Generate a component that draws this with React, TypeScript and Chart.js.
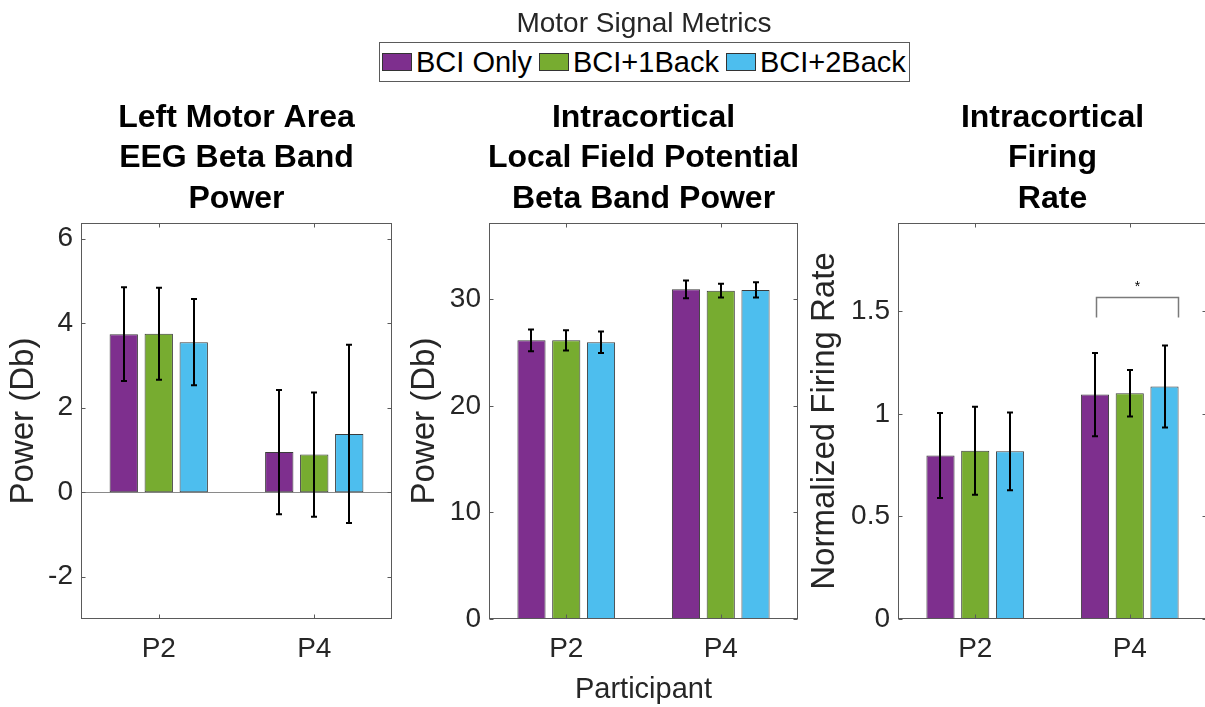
import React, { useEffect, useRef } from 'react';
import { Chart, registerables } from 'chart.js';

Chart.register(...registerables);

// ---------- data ----------
const CATEGORIES = ['P2', 'P4'];
const SERIES = ['BCI Only', 'BCI+1Back', 'BCI+2Back'];
const COLORS = ['#7E2F8E', '#77AC30', '#4DBEEE'];

const EEG_MEAN = [[3.74, 0.95], [3.75, 0.89], [3.55, 1.38]];
const EEG_ERR = [[1.11, 1.47], [1.09, 1.47], [1.02, 2.11]];
const EEG_TICKS = [-2, 0, 2, 4, 6];

const LFP_MEAN = [[26.15, 30.93], [26.15, 30.8], [25.96, 30.87]];
const LFP_ERR = [[1.02, 0.83], [0.95, 0.65], [1.0, 0.72]];
const LFP_TICKS = [0, 10, 20, 30];

const FR_MEAN = [[0.797, 1.094], [0.82, 1.1], [0.817, 1.133]];
const FR_ERR = [[0.207, 0.203], [0.215, 0.113], [0.19, 0.2]];
const FR_TICKS = [0, 0.5, 1, 1.5];

// significance bracket on P4 (category units / data units)
const FR_SIG_X = [1 - 0.22, 1 + 0.31];
const FR_SIG_Y = [1.47, 1.567, 1.634];
const FR_SIG_LABEL = '*';

const LEGEND_TITLE = 'Motor Signal Metrics';
const X_TITLE = 'Participant';

// ---------- style ----------
const FONT = "'Liberation Sans', Arial, Helvetica, sans-serif";
const TXT = '#262626';
const AXIS = '#5a5a5a';

type PanelCfg = {
  title: string[];
  yTitle: string;
  xTitle?: string;
  mean: number[][];
  err: number[][];
  ticks: number[];
  min: number;
  max: number;
  canvasX: number;
  canvasW: number;
  yAxisW: number;
  padRight: number;
  yTitlePad: number;
  zeroLine?: boolean;
  sig?: boolean;
};

const PANELS: PanelCfg[] = [
  {
    title: ['Left Motor Area', 'EEG Beta Band', 'Power'],
    yTitle: 'Power (Db)',
    mean: EEG_MEAN, err: EEG_ERR, ticks: EEG_TICKS, min: -3, max: 6.37,
    canvasX: 0, canvasW: 400, yAxisW: 81, padRight: 8, yTitlePad: 5, zeroLine: true,
  },
  {
    title: ['Intracortical', 'Local Field Potential', 'Beta Band Power'],
    yTitle: 'Power (Db)', xTitle: X_TITLE,
    mean: LFP_MEAN, err: LFP_ERR, ticks: LFP_TICKS, min: 0, max: 37.15,
    canvasX: 400, canvasW: 405, yAxisW: 89, padRight: 7, yTitlePad: 6,
  },
  {
    title: ['Intracortical', 'Firing', 'Rate'],
    yTitle: 'Normalized Firing Rate',
    mean: FR_MEAN, err: FR_ERR, ticks: FR_TICKS, min: 0, max: 1.93,
    canvasX: 805, canvasW: 410, yAxisW: 93, padRight: 8, yTitlePad: 1, sig: true,
  },
];

const TITLE_BASELINES = [126.7, 167.3, 208];

function makeDecor(p: PanelCfg) {
  return {
    id: 'decor',
    beforeDatasetsDraw(chart: any) {
      const { ctx, chartArea: a, scales } = chart;
      if (p.zeroLine) {
        const y = Math.round(scales.y.getPixelForValue(0)) + 0.5;
        ctx.save();
        ctx.strokeStyle = '#8a8a8a';
        ctx.lineWidth = 1;
        ctx.beginPath();
        ctx.moveTo(a.left, y);
        ctx.lineTo(a.right, y);
        ctx.stroke();
        ctx.restore();
      }
    },
    afterDatasetsDraw(chart: any) {
      const { ctx, chartArea: a, scales } = chart;
      const ys = scales.y;
      const xs = scales.x;
      ctx.save();
      // error bars
      ctx.strokeStyle = '#000';
      ctx.lineWidth = 2;
      p.mean.forEach((vals, i) => {
        const meta = chart.getDatasetMeta(i);
        vals.forEach((v, j) => {
          const bar = meta.data[j];
          const e = p.err[i][j];
          const x = Math.round(bar.x);
          const y1 = ys.getPixelForValue(v + e);
          const y2 = ys.getPixelForValue(v - e);
          ctx.beginPath();
          ctx.moveTo(x, y1);
          ctx.lineTo(x, y2);
          ctx.moveTo(x - 3, y1);
          ctx.lineTo(x + 3, y1);
          ctx.moveTo(x - 3, y2);
          ctx.lineTo(x + 3, y2);
          ctx.stroke();
        });
      });
      // box
      ctx.strokeStyle = AXIS;
      ctx.lineWidth = 1;
      const L = Math.round(a.left) + 0.5;
      const R = Math.round(a.right) - 0.5;
      const T = Math.round(a.top) + 0.5;
      const B = Math.round(a.bottom) - 0.5;
      ctx.strokeRect(L, T, R - L, B - T);
      // inward ticks
      ctx.beginPath();
      const tl = 4;
      p.ticks.forEach((v) => {
        const y = Math.round(ys.getPixelForValue(v)) + 0.5;
        ctx.moveTo(L, y); ctx.lineTo(L + tl, y);
        ctx.moveTo(R, y); ctx.lineTo(R - tl, y);
      });
      CATEGORIES.forEach((_, j) => {
        const x = Math.round(xs.getPixelForValue(j)) + 0.5;
        ctx.moveTo(x, T); ctx.lineTo(x, T + tl);
        ctx.moveTo(x, B); ctx.lineTo(x, B - tl);
      });
      ctx.stroke();
      // significance bracket
      if (p.sig) {
        const x1 = Math.round(xs.getPixelForValue(FR_SIG_X[0])) + 0.5;
        const x2 = Math.round(xs.getPixelForValue(FR_SIG_X[1])) + 0.5;
        const yt = ys.getPixelForValue(FR_SIG_Y[0]);
        const yb = Math.round(ys.getPixelForValue(FR_SIG_Y[1])) + 0.5;
        ctx.strokeStyle = '#7a7a7a';
        ctx.lineWidth = 1.5;
        ctx.beginPath();
        ctx.moveTo(x1, yt);
        ctx.lineTo(x1, yb);
        ctx.lineTo(x2, yb);
        ctx.lineTo(x2, yt);
        ctx.stroke();
        ctx.fillStyle = '#000';
        ctx.font = `14px ${FONT}`;
        ctx.textAlign = 'center';
        ctx.textBaseline = 'middle';
        ctx.fillText(FR_SIG_LABEL, (x1 + x2) / 2, ys.getPixelForValue(FR_SIG_Y[2]) + 3);
      }
      // title
      ctx.fillStyle = '#000';
      ctx.font = `bold 32px ${FONT}`;
      ctx.textAlign = 'center';
      ctx.textBaseline = 'alphabetic';
      const cx = (a.left + a.right) / 2;
      p.title.forEach((line, k) => ctx.fillText(line, cx, TITLE_BASELINES[k]));
      ctx.restore();
    },
  };
}

function buildConfig(p: PanelCfg): any {
  return {
    type: 'bar',
    data: {
      labels: CATEGORIES,
      datasets: SERIES.map((name, i) => ({
        label: name,
        data: p.mean[i],
        backgroundColor: COLORS[i],
        borderColor: 'rgba(25,25,25,0.85)',
        borderWidth: 1,
        borderSkipped: false,
        categoryPercentage: 0.675,
        barPercentage: 0.81,
      })),
    },
    options: {
      responsive: false,
      animation: false,
      events: [],
      layout: { padding: { top: 223, right: p.padRight, bottom: 0, left: 0 } },
      plugins: { legend: { display: false }, tooltip: { enabled: false }, title: { display: false } },
      scales: {
        x: {
          type: 'category',
          offset: true,
          grid: { display: false, drawTicks: false },
          border: { display: false },
          ticks: { color: TXT, font: { family: FONT, size: 28 }, padding: 13, maxRotation: 0, autoSkip: false },
          title: {
            display: !!p.xTitle,
            text: p.xTitle || '',
            color: TXT,
            font: { family: FONT, size: 29 },
            padding: { top: 0, bottom: 0 },
          },
          afterFit: (s: any) => { s.height = 88; },
        },
        y: {
          type: 'linear',
          min: p.min,
          max: p.max,
          grid: { display: false, drawTicks: false },
          border: { display: false },
          afterBuildTicks: (s: any) => { s.ticks = p.ticks.map((v) => ({ value: v })); },
          ticks: { color: TXT, font: { family: FONT, size: 28 }, padding: 8, callback: (v: any) => String(v) },
          title: {
            display: true,
            text: p.yTitle,
            color: TXT,
            font: { family: FONT, size: 33 },
            padding: { top: p.yTitlePad - 1, bottom: 0 },
          },
          afterFit: (s: any) => { s.width = p.yAxisW; },
        },
      },
    },
    plugins: [makeDecor(p)],
  };
}

function Panel({ cfg }: { cfg: PanelCfg }) {
  const ref = useRef<HTMLCanvasElement>(null);
  useEffect(() => {
    const chart = new Chart(ref.current as HTMLCanvasElement, buildConfig(cfg));
    return () => chart.destroy();
  }, [cfg]);
  return (
    <canvas
      ref={ref}
      width={cfg.canvasW}
      height={707}
      style={{ position: 'absolute', left: cfg.canvasX, top: 0, width: cfg.canvasW, height: 707 }}
    />
  );
}

function Legend() {
  return (
    <>
      <div
        style={{
          position: 'absolute', left: 379, top: 7, width: 530, textAlign: 'center',
          fontFamily: FONT, fontSize: 28, lineHeight: '32px', color: TXT, whiteSpace: 'nowrap',
        }}
      >
        {LEGEND_TITLE}
      </div>
      <div
        style={{
          position: 'absolute', left: 379, top: 42, height: 40, boxSizing: 'border-box',
          border: `1px solid ${AXIS}`, display: 'flex', alignItems: 'center', padding: '0 3px 0 2px',
          background: '#fff', fontFamily: FONT, whiteSpace: 'nowrap',
        }}
      >
        {SERIES.map((s, i) => (
          <div key={s} style={{ display: 'flex', alignItems: 'center', marginRight: i < SERIES.length - 1 ? 7 : 0 }}>
            <span
              style={{
                display: 'inline-block', width: 30, height: 18, boxSizing: 'border-box',
                border: '1px solid #333', background: COLORS[i], marginRight: 4,
              }}
            />
            <span style={{ fontSize: 29, lineHeight: '32px', color: '#000' }}>{s}</span>
          </div>
        ))}
      </div>
    </>
  );
}

export default function App() {
  return (
    <div
      style={{
        position: 'fixed', left: 0, top: 0, width: 1205, height: 707, overflow: 'hidden',
        background: '#fff', fontFamily: FONT,
      }}
    >
      {PANELS.map((p, i) => (
        <Panel key={i} cfg={p} />
      ))}
      <Legend />
    </div>
  );
}
